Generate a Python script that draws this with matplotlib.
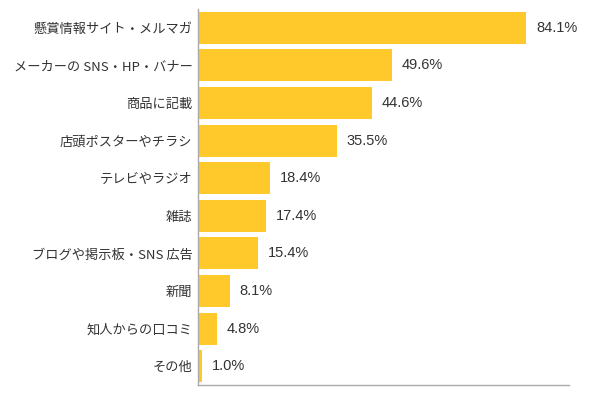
import matplotlib
matplotlib.use('Agg')
import matplotlib.pyplot as plt

plt.rcParams['font.family'] = ['Noto Sans CJK JP', 'DejaVu Sans']

categories = ['懸賞情報サイト・メルマガ', 'メーカーの SNS・HP・バナー', '商品に記載',
              '店頭ポスターやチラシ', 'テレビやラジオ', '雑誌', 'ブログや掲示板・SNS 広告',
              '新聞', '知人からの口コミ', 'その他']
values = [84.1, 49.6, 44.6, 35.5, 18.4, 17.4, 15.4, 8.1, 4.8, 1.0]

fig = plt.figure(figsize=(6, 3.94), dpi=100)
ax = fig.add_axes([0.33, 0.023, 0.618, 0.954])

pos = list(range(len(categories)))
ax.barh(pos, values, height=0.85, color='#FFC92B')
for p, v in zip(pos, values):
    ax.text(v + 2.5, p, f'{v:.1f}%', va='center', ha='left', fontsize=10.5,
            color='#333333', family=['Liberation Sans', 'DejaVu Sans'])

ax.set_yticks(pos)
ax.set_yticklabels(categories, fontsize=9.5, color='#333333')
ax.invert_yaxis()
ax.set_ylim(len(categories) - 0.5, -0.5)
ax.set_xlim(0, 95)
ax.set_xticks([])
ax.tick_params(axis='y', length=0, pad=4)
for s in ['top', 'right']:
    ax.spines[s].set_visible(False)
for s in ['left', 'bottom']:
    ax.spines[s].set_color('#aaaaaa')
    ax.spines[s].set_linewidth(1)

fig.savefig('out.png', dpi=100)
